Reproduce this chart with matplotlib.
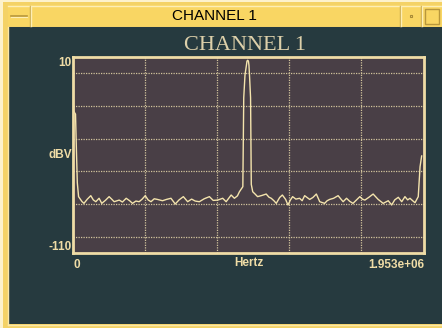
"""Spectrum view of channel 1, drawn inside a small window frame."""
import matplotlib

matplotlib.use("Agg")
import matplotlib.pyplot as plt
from matplotlib.patches import Rectangle

# spectrum trace (frequency in kHz, level in dBV)
freq_khz = [0, 14, 19, 24, 31, 50, 61, 80, 99, 113, 127, 145, 160, 180, 201,
            215, 229, 257, 275, 296, 315, 331, 350, 368, 385, 402, 418, 434,
            452, 470, 498, 520, 545, 569, 590, 614, 638, 660, 680, 703, 730,
            759, 780, 805, 833, 852, 880, 898, 915, 926, 945,
            950, 957, 965, 968, 972, 976, 979, 982, 988, 992,
            1000, 1014, 1027, 1050, 1075, 1090, 1103, 1118, 1131, 1150, 1165,
            1183, 1196, 1210, 1222, 1240, 1261, 1275, 1289, 1317, 1335, 1354,
            1373, 1400, 1414, 1428, 1450, 1475, 1503, 1522, 1540, 1558, 1596,
            1610, 1624, 1645, 1670, 1698, 1726, 1754, 1773, 1790, 1810, 1829,
            1847, 1862, 1875, 1890, 1903, 1921, 1931, 1940]
level_dbv = [-22.5, -25.0, -47.0, -67.0, -75.5, -78.5, -79.6, -77.0, -74.9,
             -77.5, -78.6, -76.5, -79.6, -77.8, -75.5, -77.0, -78.6, -77.6,
             -78.8, -76.5, -78.0, -79.6, -78.2, -78.6, -77.0, -74.9, -77.5,
             -78.6, -76.8, -77.2, -78.0, -77.2, -76.5, -80.0, -77.5, -75.5,
             -78.6, -77.0, -78.2, -78.6, -76.8, -75.5, -77.8, -77.6, -76.5,
             -78.6, -74.5, -76.5, -75.0, -72.5, -69.4,
             -15.0, -1.0, 5.0, 7.5, 8.0, 7.5, 5.0, -1.0, -15.0, -68.0,
             -72.5, -74.0, -75.5, -74.8, -73.9, -75.8, -76.5, -78.0, -79.6,
             -76.0, -74.5, -77.2, -80.6, -77.5, -75.5, -77.0, -76.5, -78.0,
             -74.9, -77.2, -76.0, -73.9, -78.6, -79.6, -78.0, -77.2, -76.5,
             -74.9, -78.6, -76.5, -78.4, -79.6, -75.5, -77.0, -77.6, -76.0,
             -73.9, -77.2, -79.6, -78.0, -80.6, -77.5, -75.9, -78.6, -75.5,
             -77.5, -76.5, -78.0, -79.2, -75.5, -57.2, -50.6]

f_max = 1.953e6
db_top, db_bottom = 10, -110
grid_db = [0, -20, -40, -60, -80, -100]
grid_hz = [4e5, 8e5, 1.2e6, 1.6e6]

W, H = 442, 328
CREAM = "#efdca6"
PANEL = "#263a3f"
PLOT_BG = "#493f46"
YELLOW = "#f9d663"

fig = plt.figure(figsize=(W / 100, H / 100), dpi=100, facecolor="#fdf2cc")

# window chrome, in pixel coordinates
bg = fig.add_axes([0, 0, 1, 1])
bg.set_xlim(0, W)
bg.set_ylim(H, 0)
bg.axis("off")
bg.add_patch(Rectangle((3, 2), W - 3, H - 2, color="#f4d266", lw=0))
bg.add_patch(Rectangle((8, 5), W - 8, 21, color=YELLOW, lw=0))
bg.plot([8, W], [5.5, 5.5], color="#fdeeb5", lw=1)
bg.add_patch(Rectangle((8, 27), W - 8, 297, color=PANEL, lw=0))
bg.plot([7.5, 7.5], [27, 325], color="#fbe7a8", lw=1)
bg.plot([8, W], [324.5, 324.5], color="#fbe7a8", lw=1)
# title bar buttons
for x in (30, 400, 421):
    bg.plot([x, x], [6, 26], color="#c9a94a", lw=1)
    bg.plot([x + 1, x + 1], [6, 26], color="#fdeeb5", lw=1)
bg.plot([11, 27], [15.5, 15.5], color="#b8973c", lw=1.2)
bg.plot([11, 27], [16.5, 16.5], color="#fdeeb5", lw=0.8)
bg.add_patch(Rectangle((409.5, 14.5), 2, 2, facecolor="none",
                       edgecolor="#a88a36", lw=0.8))
bg.add_patch(Rectangle((424.5, 8.5), 14, 15, facecolor="none",
                       edgecolor="#b8973c", lw=1))
bg.text(214, 16, "CHANNEL 1", ha="center", va="center",
        family="Liberation Sans", fontsize=11, color="black")
bg.text(245, 45, "CHANNEL 1", ha="center", va="center",
        family="Liberation Serif", fontsize=16, color="#ddd0aa")

# spectrum axes
ax = fig.add_axes([73 / W, 1 - 253 / H, 351 / W, 196 / H])
ax.set_facecolor(PLOT_BG)
ax.set_xlim(0, f_max)
ax.set_ylim(db_bottom, db_top)
for y in grid_db:
    ax.axhline(y, color="#d2c49c", lw=0.9, ls=(0, (1, 1)), zorder=1)
for x in grid_hz:
    ax.axvline(x, color="#d2c49c", lw=0.9, ls=(0, (1, 1)), zorder=1)
ax.plot([f * 1e3 for f in freq_khz], level_dbv, color="#f4e4ad", lw=1.0,
        zorder=2)

for s in ax.spines.values():
    s.set_color(CREAM)
    s.set_linewidth(2)
ax.tick_params(length=0, colors=CREAM)
ax.tick_params(axis="x", pad=4)
ax.tick_params(axis="y", pad=1)
lab = dict(family="Liberation Sans", fontweight="bold", fontsize=8.5)
ax.set_yticks([db_top, db_bottom])
ax.set_yticklabels(["10", "-110"], **lab)
ax.get_yticklabels()[0].set_va("top")
ax.get_yticklabels()[1].set_va("bottom")
ax.set_xticks([0, f_max])
ax.set_xticklabels(["0", "1.953e+06"], **lab)
ax.get_xticklabels()[0].set_ha("left")
ax.get_xticklabels()[1].set_ha("right")
ax.set_ylabel("dBV", rotation=0, ha="right", va="center", color=CREAM, **lab)
ax.yaxis.set_label_coords(-0.002, 0.5)
ax.set_xlabel("Hertz", color=CREAM, va="top", **lab)
ax.xaxis.set_label_coords(0.5, -0.022)

fig.savefig("out.png", dpi=100, facecolor=fig.get_facecolor())
